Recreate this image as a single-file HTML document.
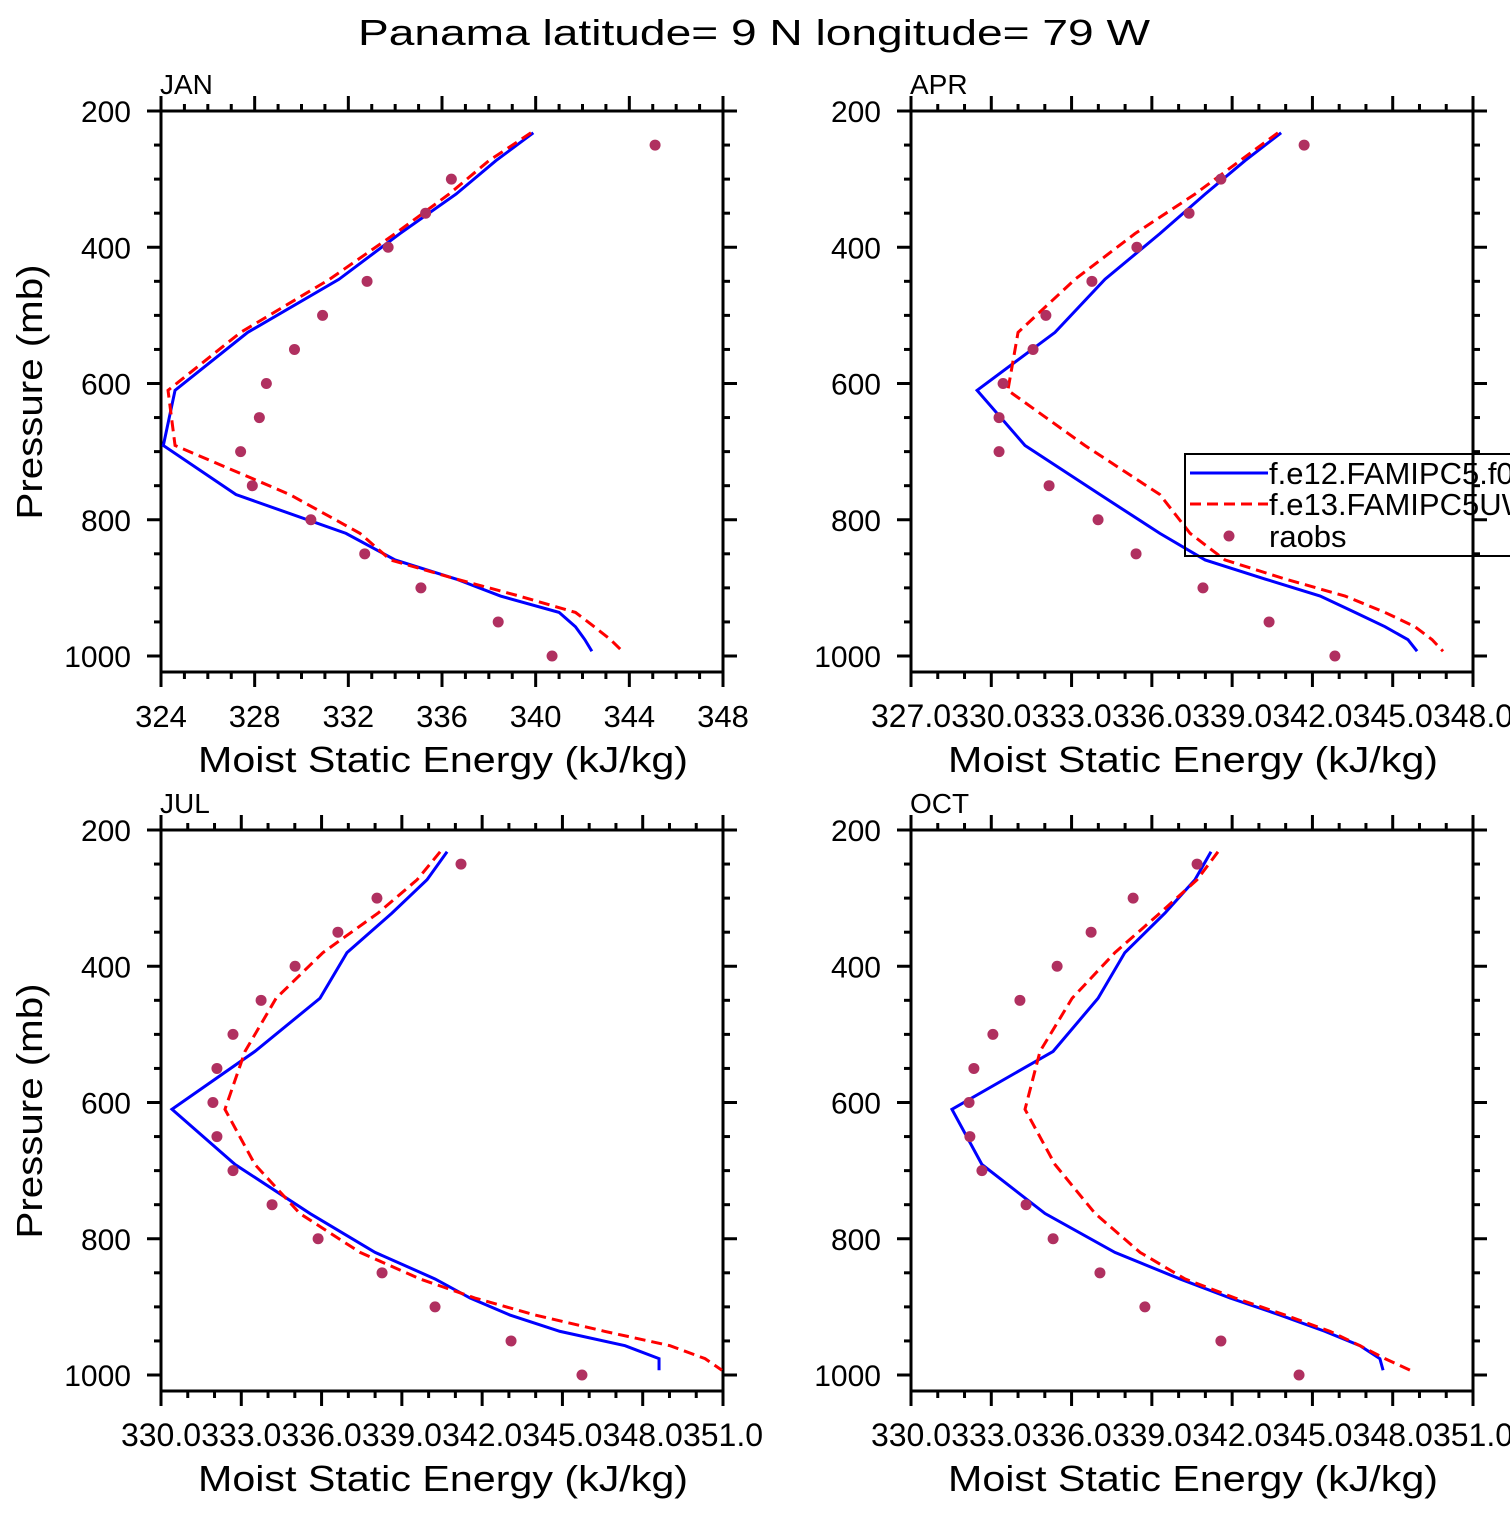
<!DOCTYPE html>
<html><head><meta charset="utf-8"><style>
html,body{margin:0;padding:0;background:#fff}
svg text{font-family:"Liberation Sans",sans-serif;fill:#000}
</style></head><body>
<svg id="chart" width="1510" height="1510" viewBox="0 0 1510 1510" xmlns="http://www.w3.org/2000/svg">
<text x="754" y="45" font-size="36" text-anchor="middle" textLength="792" lengthAdjust="spacingAndGlyphs">Panama  latitude= 9 N longitude= 79 W</text>
</svg>
<script>
// model levels (mb)
const modelLevels=[232,273,322,380,447,525,610,691,763,820,859,887,912,936,957,976,993];
const raobLevels=[250,300,350,400,450,500,550,600,650,700,750,800,850,900,950,1000];
const months=["JAN","APR","JUL","OCT"];
const janBlue=[339.9,338.3,336.6,334.2,331.6,327.7,324.6,324.1,327.2,331.9,334.0,336.6,338.5,341.0,341.7,342.1,342.4];
const janRed=[339.8,338.0,336.3,334.0,331.2,327.4,324.3,324.6,329.5,332.5,333.8,336.6,339.3,341.7,342.5,343.2,343.7];
const janRaob=[345.1,336.4,335.3,333.7,332.8,330.9,329.7,328.5,328.2,327.4,327.9,330.4,332.7,335.1,338.4,340.7];
const aprBlue=[340.83,339.48,337.99,336.30,334.25,332.38,329.47,331.26,334.06,336.30,337.99,340.23,342.29,343.59,344.71,345.57,345.91];
const aprRed=[340.71,339.29,337.61,335.37,333.13,331.0,330.62,333.5,336.30,337.43,338.73,340.98,343.22,344.71,345.83,346.47,346.88];
const aprRaob=[341.69,338.58,337.39,335.44,333.76,332.04,331.56,330.44,330.29,330.29,332.16,333.99,335.41,337.91,340.38,342.84];
const julBlue=[340.69,339.94,338.63,336.95,335.94,333.51,330.41,332.77,335.57,338.0,340.24,341.55,343.04,344.91,347.34,348.61,348.61];
const julRed=[340.43,339.57,338.11,336.05,334.30,333.14,332.39,333.51,335.19,337.44,339.68,341.73,343.98,346.59,349.02,350.33,350.96];
const julRaob=[341.21,338.07,336.61,335.01,333.74,332.69,332.09,331.94,332.09,332.69,334.15,335.87,338.26,340.24,343.08,345.73];
const octBlue=[341.21,340.61,339.49,337.99,336.99,335.31,331.53,332.65,335.01,337.62,340.05,341.92,343.79,345.47,346.78,347.52,347.64];
const octRed=[341.47,340.69,339.30,337.62,336.02,334.82,334.26,335.38,336.88,338.56,340.24,342.11,343.98,345.66,346.78,347.71,348.65];
const octRaob=[340.69,338.30,336.73,335.46,334.07,333.06,332.35,332.17,332.20,332.65,334.30,335.31,337.06,338.74,341.58,344.50];
const xMins=[324,327,330,330];
const xMaxs=[348,348,351,351];
const xMajorSteps=[4,3,3,3];
const yTicks=[200,400,600,800,1000];

const NS="http://www.w3.org/2000/svg";
const svg=document.getElementById("chart");
function mk(tag,attrs,parent){const e=document.createElementNS(NS,tag);for(const k in attrs)e.setAttribute(k,attrs[k]);(parent||svg).appendChild(e);return e;}

const blues=[janBlue,aprBlue,julBlue,octBlue],reds=[janRed,aprRed,julRed,octRed],raobs=[janRaob,aprRaob,julRaob,octRaob];
const lefts=[161,911,161,911],tops=[111,111,830,830];
const W=562,H=561,pxPerMb=0.68125;

for(let i=0;i<4;i++){
  const L=lefts[i],T=tops[i],R=L+W,B=T+H;
  const xmin=xMins[i],xmax=xMaxs[i];
  const X=v=>L+(v-xmin)/(xmax-xmin)*W;
  const Y=p=>T+(p-200)*pxPerMb;
  const g=mk("g",{});
  
  
  const lab=mk("text",{x:L-1,y:T-17,"font-size":28},g);lab.textContent=months[i];
  
  
  for(let p=200;p<=1000;p+=50){
    const major=p%200===0;const len=major?14:7;const y=Y(p);
    const t1=mk("line",{x1:L,x2:L-len,y1:y,y2:y,stroke:"#000","stroke-width":3},g);
    
    
    const t2=mk("line",{x1:R,x2:R+len,y1:y,y2:y,stroke:"#000","stroke-width":3},g);
    
    
  }
  yTicks.forEach(p=>{
    const t=mk("text",{x:L-30,y:Y(p)+11,"font-size":30,"text-anchor":"end"},g);t.textContent=p;
    
    
  });
  const step=xMajorSteps[i];
  for(let v=xmin;v<=xmax+0.001;v+=1){
    const major=Math.abs(((v-xmin)/step)-Math.round((v-xmin)/step))<1e-6;
    const len=major?15:7;const x=X(v);
    const t1=mk("line",{x1:x,x2:x,y1:B,y2:B+len,stroke:"#000","stroke-width":3},g);
    
    
    const t2=mk("line",{x1:x,x2:x,y1:T,y2:T-len,stroke:"#000","stroke-width":3},g);
    
    
    if(major){
      const t=mk("text",{x:x,y:B+55,"font-size":i===0?31:32,"text-anchor":"middle"},g);
      t.textContent=i===0?String(v):v.toFixed(1);
      
      
    }
  }
  const fr=mk("rect",{x:L,y:T,width:W,height:H,fill:"none",stroke:"#000","stroke-width":3},g);
  
  
  const xt=mk("text",{x:L+W/2+1,y:B+100,"font-size":36,"text-anchor":"middle",textLength:490,lengthAdjust:"spacingAndGlyphs"},g);
  xt.textContent="Moist Static Energy (kJ/kg)";
  
  
  if(L<500){
    const yt=mk("text",{x:0,y:0,"font-size":36,"text-anchor":"middle",textLength:255,lengthAdjust:"spacingAndGlyphs",transform:`translate(42,${T+281}) rotate(-90)`},g);
    yt.textContent="Pressure (mb)";
    
    
  }
  const cp=mk("clipPath",{id:"clip"+i},g);mk("rect",{x:L,y:T,width:W,height:H},cp);
  const pl=mk("g",{"clip-path":`url(#clip${i})`},g);
  const bl=mk("polyline",{points:modelLevels.map((p,k)=>X(blues[i][k])+","+Y(p)).join(" "),fill:"none",stroke:"#0000ff","stroke-width":3},pl);
  
  
  const rl=mk("polyline",{points:modelLevels.map((p,k)=>X(reds[i][k])+","+Y(p)).join(" "),fill:"none",stroke:"#ff0000","stroke-width":3,"stroke-dasharray":"11,6"},pl);
  
  
  raobLevels.forEach((p,k)=>{
    const c=mk("circle",{cx:X(raobs[i][k]),cy:Y(p),r:5.5,fill:"#b03060"},pl);
    
    
  });
}
const lg=mk("g",{});


mk("rect",{x:1185,y:454,width:340,height:102,fill:"none",stroke:"#000","stroke-width":2},lg);
const l1=mk("line",{x1:1190,x2:1268,y1:473,y2:473,stroke:"#0000ff","stroke-width":3},lg);


const l2=mk("line",{x1:1190,x2:1268,y1:504,y2:504,stroke:"#ff0000","stroke-width":3,"stroke-dasharray":"11,6"},lg);


const l3=mk("circle",{cx:1229,cy:536,r:5.5,fill:"#b03060"},lg);


[["f.e12.FAMIPC5.f09",484],["f.e13.FAMIPC5UW",515],["raobs",547]].forEach(([s,y])=>{
  const t=mk("text",{x:1269,y:y,"font-size":31},lg);t.textContent=s;
  
  
});
</script>
</body></html>
